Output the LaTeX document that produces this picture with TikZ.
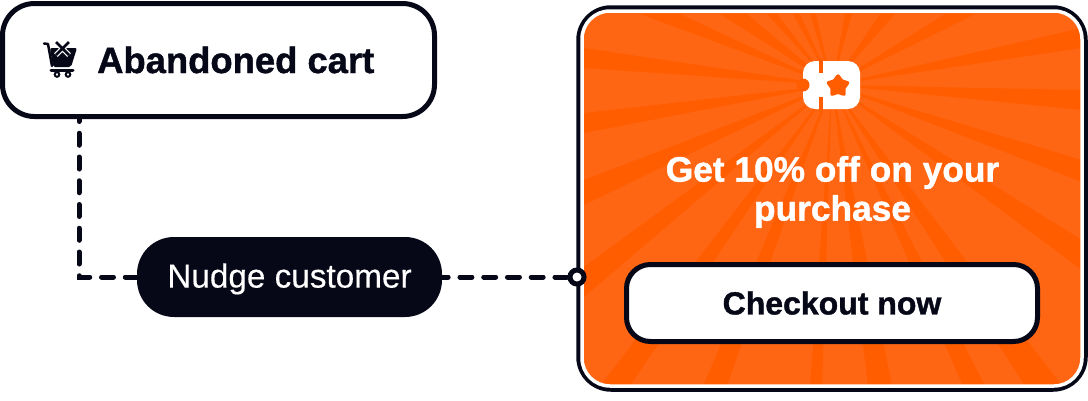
\documentclass[tikz,border=0pt]{standalone}
\usepackage{xcolor}
\usepackage{fontspec}
\setmainfont{Liberation Sans}[BoldFeatures={FakeBold=1.2}]
\newfontfamily\nudgefont{Liberation Sans}[FakeBold=0.3,AutoFakeBold=0.3]
\usetikzlibrary{shapes.geometric, positioning}
\definecolor{nudgeInk}{HTML}{060818}
\definecolor{cardLight}{HTML}{FF6614}
\definecolor{cardDark}{HTML}{FF5D00}

\begin{document}
\begin{tikzpicture}[
  x=1pt, y=-1pt,
  cartbox/.style={rectangle, draw=nudgeInk, fill=white, line width=5pt, minimum width=432pt, minimum height=113pt, rounded corners=32pt},
  nudgebox/.style={rectangle, fill=nudgeInk, text=white, minimum width=305pt, minimum height=80pt, rounded corners=37pt, text depth=3pt, font=\nudgefont\fontsize{33.3}{33}\selectfont},
  cardbox/.style={rectangle, draw=white, line width=3.5pt, minimum width=500pt, minimum height=375pt, rounded corners=28pt},
  framebox/.style={rectangle, draw=nudgeInk, line width=5.5pt, minimum width=506pt, minimum height=381pt, rounded corners=32pt},
  buttonbox/.style={rectangle, draw=nudgeInk, fill=white, line width=5pt, minimum width=411pt, minimum height=77pt, rounded corners=24pt, font=\fontsize{32}{32}\selectfont\bfseries, text=nudgeInk},
  headtext/.style={inner sep=0pt, font=\fontsize{36.4}{36}\selectfont\bfseries, text=nudgeInk},
  offertext/.style={inner sep=0pt, align=center, text=white, font=\fontsize{35.3}{39}\selectfont\bfseries},
  dashline/.style={draw=nudgeInk, line width=5pt, line cap=round, dash pattern=on 12pt off 11.75pt},
  handledot/.style={circle, draw=nudgeInk, fill=white, line width=5pt, inner sep=0pt, minimum size=14pt},
]
\useasboundingbox (0,0) rectangle (1088,400);

% Offer card
\node[framebox] (frame) at (832,198.5) {};
\begin{scope}
  \clip[rounded corners=28pt] (582,11) rectangle (1082,386);
  \fill[cardLight] (582,11) rectangle (1082,386);
  \coordinate (burst) at (832,85);
  \foreach \xa/\ya/\xb/\yb in {
    584/48/584/68, 584/113/584/133, 584/180/584/205, 584/267/584/297,
    640/14/680/14, 720/14/747/14, 767/14/777/14, 793/14/800/14, 810/14/816/14,
    945/14/975/14, 880/14/895/14, 845/14/852/14,
    1082/28/1082/48, 1082/90/1082/110, 1082/160/1082/182, 1082/240/1082/270,
    1025/386/1062/386, 963/386/985/386, 868/386/892/386,
    810/386/822/386, 703/386/727/386, 600/386/630/386}
    \fill[cardDark] (burst) -- (\xa,\ya) -- (\xb,\yb) -- cycle;
\end{scope}
\node[cardbox] (card) at (832,198.5) {};

% Ticket icon
\fill[white, rounded corners=12pt] (803,61) rectangle (860,109);
\fill[cardDark] (803,85) circle (6.5pt);
\fill[cardDark] (819,58) rectangle (823,73);
\fill[cardDark] (819,97) rectangle (823,112);
\node[star, star points=5, star point ratio=1.6, fill=cardDark, draw=cardDark, line width=3.5pt, line join=round, inner sep=0pt, minimum size=20pt] (ticketstar) at (838,86) {};

% Offer text and button
\node[offertext] (offer) at (832.5,192) {Get 10\% off on your\\purchase};
\node[buttonbox] (button) at (832,303) {Checkout now};

% Trigger
\node[cartbox] (cart) at (218.5,60) {};
\node[headtext, anchor=base west] (cartlabel) at (97,73) {Abandoned cart};

% Cart icon
\draw[nudgeInk, line width=2.5pt, line cap=round, line join=round] (44,43.5) -- (48,44) -- (52,66);
\fill[nudgeInk, rounded corners=2pt] (50,48) -- (77,48) -- (71,67) -- (53,67) -- cycle;
\draw[white, line width=5pt] (56,42) -- (69,55) (69,42) -- (56,55);
\draw[nudgeInk, line width=2.8pt] (56,42) -- (69,55) (69,42) -- (56,55);
\draw[nudgeInk, line width=3pt, line cap=round] (51,70.5) -- (73,70.5);
\draw[nudgeInk, fill=white, line width=2pt] (57,74.5) circle (2.3pt);
\draw[nudgeInk, fill=white, line width=2pt] (68,74.5) circle (2.3pt);

% Nudge
\node[nudgebox] (nudge) at (289.5,277) {Nudge customer};
\coordinate (bend) at (79,277);
\coordinate (handle) at (577,277);

% Connectors
\draw[dashline, dash phase=9.5pt] (cart.south -| bend) -- (bend) -- (nudge.west);
\draw[dashline, dash phase=6pt] (nudge.east) -- (handle);
\node[handledot] (dot) at (handle) {};

\end{tikzpicture}
\end{document}
